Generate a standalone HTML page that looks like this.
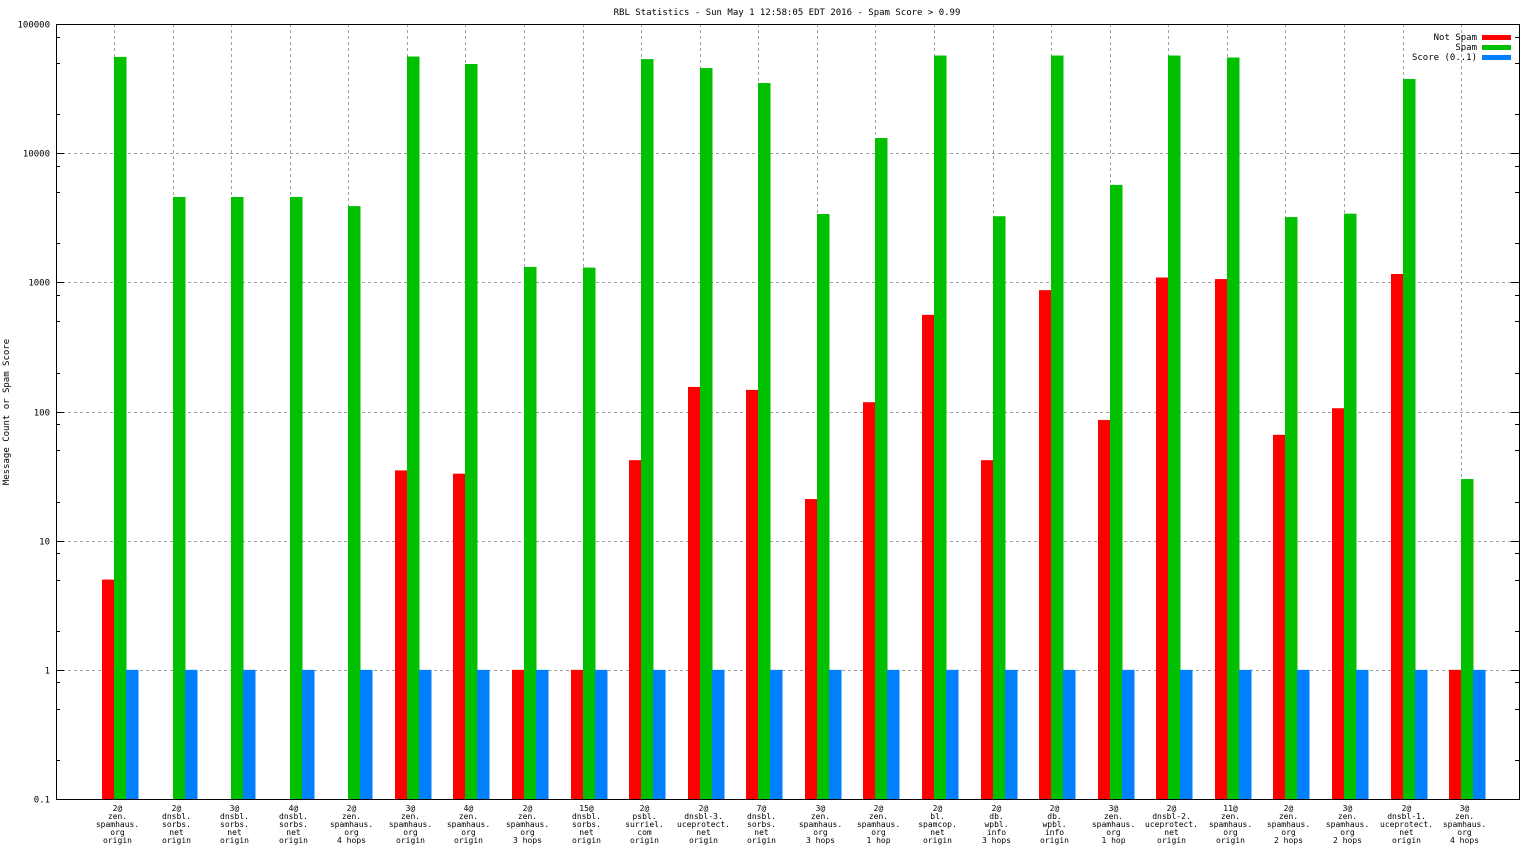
<!DOCTYPE html>
<html><head><meta charset="utf-8"><style>
html,body{margin:0;padding:0;background:#fff;}
svg{display:block;font-family:"DejaVu Sans Mono","Liberation Mono",monospace;}
</style></head><body>
<svg id="chart" width="1536" height="864" xmlns="http://www.w3.org/2000/svg">
<text x="787" y="15" font-size="9" text-anchor="middle">RBL Statistics - Sun May  1 12:58:05 EDT 2016 - Spam Score &gt; 0.99</text>
<text transform="translate(9,412) rotate(-90)" font-size="9" text-anchor="middle">Message Count or Spam Score</text>
<g id="grid"></g><g id="bars"></g><g id="axes"></g>
<rect x="56.5" y="24.5" width="1463" height="775" fill="none" stroke="#000" stroke-width="1"/>
<g>
<text x="1477" y="40" font-size="9" text-anchor="end">Not Spam</text>
<rect x="1482" y="35" width="29" height="5" fill="#ff0000"/>
<text x="1477" y="50" font-size="9" text-anchor="end">Spam</text>
<rect x="1482" y="45" width="29" height="5" fill="#00c000"/>
<text x="1477" y="60" font-size="9" text-anchor="end">Score (0..1)</text>
<rect x="1482" y="55" width="29" height="5" fill="#0080ff"/>
</g>
</svg>
<script>
const categories=[
["2@","zen.","spamhaus.","org","origin"],["2@","dnsbl.","sorbs.","net","origin"],["3@","dnsbl.","sorbs.","net","origin"],["4@","dnsbl.","sorbs.","net","origin"],["2@","zen.","spamhaus.","org","4 hops"],["3@","zen.","spamhaus.","org","origin"],["4@","zen.","spamhaus.","org","origin"],["2@","zen.","spamhaus.","org","3 hops"],["15@","dnsbl.","sorbs.","net","origin"],["2@","psbl.","surriel.","com","origin"],["2@","dnsbl-3.","uceprotect.","net","origin"],["7@","dnsbl.","sorbs.","net","origin"],["3@","zen.","spamhaus.","org","3 hops"],["2@","zen.","spamhaus.","org","1 hop"],["2@","bl.","spamcop.","net","origin"],["2@","db.","wpbl.","info","3 hops"],["2@","db.","wpbl.","info","origin"],["3@","zen.","spamhaus.","org","1 hop"],["2@","dnsbl-2.","uceprotect.","net","origin"],["11@","zen.","spamhaus.","org","origin"],["2@","zen.","spamhaus.","org","2 hops"],["3@","zen.","spamhaus.","org","2 hops"],["2@","dnsbl-1.","uceprotect.","net","origin"],["3@","zen.","spamhaus.","org","4 hops"]];
const notSpam=[5,0,0,0,0,35,33,1,1,42,155,147,21,118,560,42,870,86,1090,1060,66,106,1160,1];
const spam=[55600,4580,4580,4580,3890,56000,49000,1315,1300,53500,45600,34900,3380,13100,57000,3250,57000,5680,57000,55000,3200,3400,37500,30];
const score=[1,1,1,1,1,1,1,1,1,1,1,1,1,1,1,1,1,1,1,1,1,1,1,1];
const yTicks=[0.1,1,10,100,1000,10000,100000];
const yTickLabels=["0.1","1","10","100","1000","10000","100000"];
const NS="http://www.w3.org/2000/svg";
const L=56,R=1519,T=24,B=799;
function y(v){return B-(Math.log10(v)-Math.log10(0.1))/6*(B-T);}
function xTick(i){return 114+i*58.57;}
function mk(tag,attrs,parent){const e=document.createElementNS(NS,tag);for(const k in attrs)e.setAttribute(k,attrs[k]);parent.appendChild(e);return e;}
const grid=document.getElementById('grid'),bars=document.getElementById('bars'),axes=document.getElementById('axes');
yTicks.forEach((v,i)=>{
  const yy=Math.round(y(v))+0.5;
  if(i>0&&i<yTicks.length-1){const g=mk('line',{x1:L,x2:R,y1:yy,y2:yy,stroke:'#a0a0a0','stroke-dasharray':'3,3'},grid);
  
  }
  const t=mk('text',{x:L-6,y:yy+3,'font-size':9,'text-anchor':'end'},axes);t.textContent=yTickLabels[i];
  
  
  mk('line',{x1:L,x2:L+8,y1:yy,y2:yy,stroke:'#000'},axes);
  mk('line',{x1:R-8,x2:R,y1:yy,y2:yy,stroke:'#000'},axes);
  if(i<yTicks.length-1){[2,5,8].forEach(m=>{const my=Math.round(y(v*m))+0.5;
    mk('line',{x1:L,x2:L+4,y1:my,y2:my,stroke:'#000'},axes);mk('line',{x1:R-4,x2:R,y1:my,y2:my,stroke:'#000'},axes);});}
});
const series=[[notSpam,'#ff0000','not-spam'],[spam,'#00c000','spam'],[score,'#0080ff','score']];
categories.forEach((c,i)=>{
  const xt=Math.round(xTick(i))+0.5;
  const g=mk('line',{x1:xt,x2:xt,y1:T,y2:B,stroke:'#a0a0a0','stroke-dasharray':'3,3'},grid);
  
  
  series.forEach((s,j)=>{
    const v=s[0][i];if(!(v>0))return;
    const x0=Math.round(xTick(i))-12+j*12;const yy=y(v);
    const r=mk('rect',{x:x0,y:yy,width:12.5,height:B-yy,fill:s[1]},bars);
    
    
  });
  c.forEach((line,k)=>{
    const t=mk('text',{x:xt+3,y:811+k*8,'font-size':8,'text-anchor':'middle'},axes);t.textContent=line;
    
    
  });
});
</script>
</body></html>
